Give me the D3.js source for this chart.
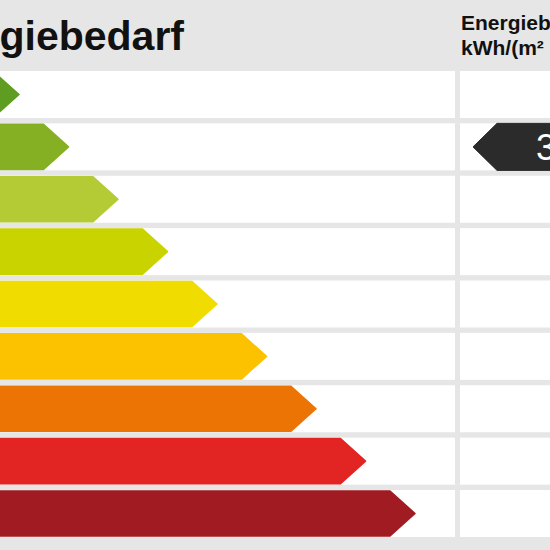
<!DOCTYPE html>
<html>
<head>
<meta charset="utf-8">
<script src="https://cdn.jsdelivr.net/npm/d3@7"></script>
<style>
html,body{margin:0;padding:0;background:#e6e6e6;overflow:hidden;}
svg{display:block;}
</style>
</head>
<body>
<svg id="chart" width="550" height="550"></svg>
<script>
// Energy classes (labels sit in the part of the arrows cropped off on the left)
const classes = ["A+", "A", "B", "C", "D", "E", "F", "G", "H"];
// Arrow length rank for each class (1 = shortest)
const arrowRank = [1, 2, 3, 4, 5, 6, 7, 8, 9];
const classColors = ["#5e9d22", "#86b024", "#b4cb35", "#c9d300", "#f1dc00", "#fcc200", "#ec7405", "#e22423", "#a01b22"];
// Current value marker
const valueClass = "A";
const valueLabel = "35";
const titleText = "Energiebedarf";
const columnHeader = ["Energiebedarf", "kWh/(m² a)"];

const svg = d3.select("#chart");
const W = 550, H = 550;

svg.append("rect").attr("width", W).attr("height", H).attr("fill", "#e6e6e6");

const y = d3.scaleBand().domain(classes).range([71, 537]).paddingInner(0.1026).paddingOuter(0);
const tipX = d3.scaleLinear().domain([1, 9]).range([19, 415]);

// Row cells
const rows = svg.append("g");
rows.selectAll("rect.left").data(classes).join("rect")
  .attr("class", "left")
  .attr("x", -10).attr("width", 465)
  .attr("y", d => y(d)).attr("height", y.bandwidth())
  .attr("fill", "#ffffff");
rows.selectAll("rect.right").data(classes).join("rect")
  .attr("class", "right")
  .attr("x", 460).attr("width", 100)
  .attr("y", d => y(d)).attr("height", y.bandwidth())
  .attr("fill", "#ffffff");

// Arrows
const bw = y.bandwidth();
const inset = 1;
const slope = 25;
svg.append("g").selectAll("path").data(classes).join("path")
  .attr("d", (d, i) => {
    const t = tipX(arrowRank[i]);
    const y0 = y(d) + inset, y1 = y(d) + bw - inset, ym = (y0 + y1) / 2;
    return `M-60,${y0}L${t - slope},${y0}L${t},${ym}L${t - slope},${y1}L-60,${y1}Z`;
  })
  .attr("fill", (d, i) => classColors[i])
  .attr("stroke", (d, i) => classColors[i])
  .attr("stroke-width", 1.5)
  .attr("stroke-linejoin", "round");

// Title
svg.append("text")
  .attr("x", 184).attr("y", 50)
  .attr("text-anchor", "end")
  .attr("font-family", "Liberation Sans, Arial, sans-serif")
  .attr("font-weight", "bold")
  .attr("font-size", 41)
  .attr("fill", "#111")
  .text(titleText);

// Column header
const hdr = svg.append("text")
  .attr("font-family", "Liberation Sans, Arial, sans-serif")
  .attr("font-weight", "bold")
  .attr("font-size", 21)
  .attr("fill", "#111");
hdr.selectAll("tspan").data(columnHeader).join("tspan")
  .attr("x", 461)
  .attr("y", (d, i) => 30 + i * 25)
  .text(d => d);

// Value marker
const vy0 = y(valueClass), vy1 = y(valueClass) + bw, vym = (vy0 + vy1) / 2;
svg.append("path")
  .attr("d", `M473,${vym}L497,${vy0}L600,${vy0}L600,${vy1}L497,${vy1}Z`)
  .attr("fill", "#2b2b2b")
  .attr("stroke", "#2b2b2b")
  .attr("stroke-width", 1)
  .attr("stroke-linejoin", "round");
svg.append("text")
  .attr("x", 536).attr("y", vym + 13)
  .attr("font-family", "Liberation Sans, Arial, sans-serif")
  .attr("font-size", 36)
  .attr("fill", "#ffffff")
  .text(valueLabel);
</script>
</body>
</html>
